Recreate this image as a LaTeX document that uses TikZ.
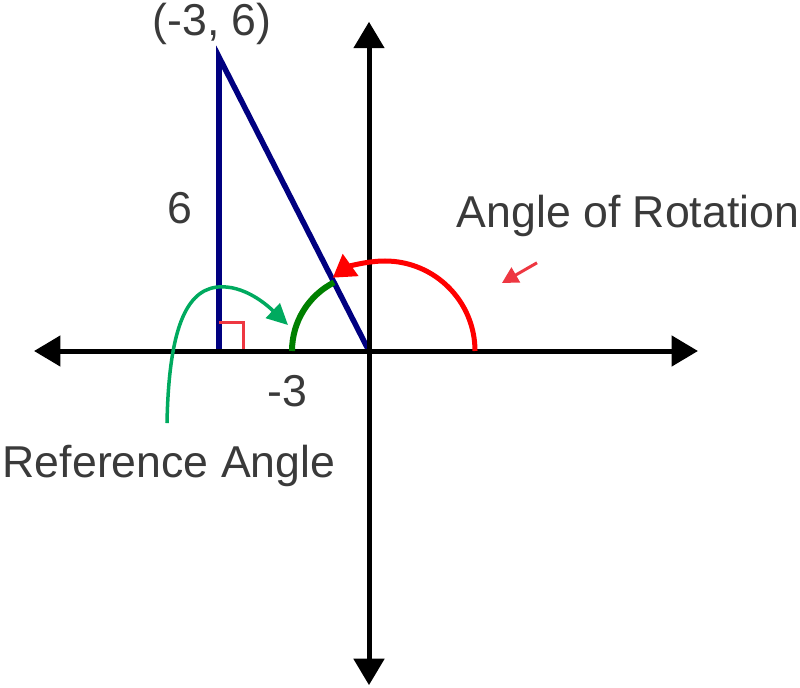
\documentclass[tikz,border=0pt]{standalone}
\usepackage{fontspec}
\setmainfont{Liberation Sans}
\usepackage{xcolor}
\usetikzlibrary{arrows.meta}

\definecolor{navy}{RGB}{0,0,128}
\definecolor{darkgreen}{RGB}{0,128,0}
\definecolor{refgreen}{RGB}{0,170,95}
\definecolor{markred}{RGB}{238,55,65}
\definecolor{textgray}{RGB}{58,58,58}

\begin{document}
\begin{tikzpicture}[x=1cm, y=0.98cm,
    axis/.style={line width=0.1cm, >={Triangle[length=0.53cm, width=0.6cm]}, <->},
    txt/.style={text=textgray, font=\fontsize{25.4pt}{30pt}\selectfont, anchor=base, inner sep=0pt}]

    \useasboundingbox (-7.38cm,-6.72cm) rectangle (8.62cm,7.02cm);

    \coordinate (O) at (0,0);
    \coordinate (A) at (-3,0);
    \coordinate (P) at (-3,6);
    \coordinate (xl) at (-6.7,0);
    \coordinate (xr) at (6.58,0);
    \coordinate (yb) at (0,-6.82);
    \coordinate (yt) at (0,6.72);

    % triangle
    \draw [navy, line width=0.11cm] (A) -- (P) -- (O);
    \draw [markred, line width=0.06cm] (A) ++(0,0.59) -- ++(0.48,0) -- ++(0,-0.59);

    \draw [axis] (xl) -- (xr);
    \draw [axis] (yb) -- (yt);

    % angles
    \draw [darkgreen, line width=0.12cm] (O) ++(-1.54cm,0) arc [start angle=180, end angle=117, radius=1.54cm];
    \draw [red, line width=0.1cm, -{Triangle[length=0.44cm, width=0.52cm]}]
        (0.32,0) ++(1.8cm,0) arc [start angle=0, end angle=125.5, radius=1.8cm];

    \coordinate (rs) at (-4.04,-1.47);
    \coordinate (rt) at (-1.62,0.53);
    \draw [refgreen, line width=0.07cm, -{Triangle[length=0.42cm, width=0.4cm]}]
        (rs) .. controls (-4.0,0.6) and (-3.6,1.31) .. (-2.94,1.31)
        .. controls (-2.4,1.31) and (-1.95,0.85) .. (rt);

    \coordinate (as) at (3.36,1.80);
    \coordinate (at) at (2.66,1.39);
    \draw [markred, line width=0.06cm, -{Triangle[length=0.32cm, width=0.34cm]}] (as) -- (at);

    \node [txt] (pt) at (-3.14,6.44) {(-3, 6)};
    \node [txt] (six) at (-3.79,2.61) {6};
    \node [txt] (m3) at (-1.63,-1.14) {-3};
    \node [txt] (rot) at (5.18,2.53) {Angle of Rotation};
    \node [txt] (ref) at (-4.0,-2.59) {Reference Angle};

\end{tikzpicture}
\end{document}
